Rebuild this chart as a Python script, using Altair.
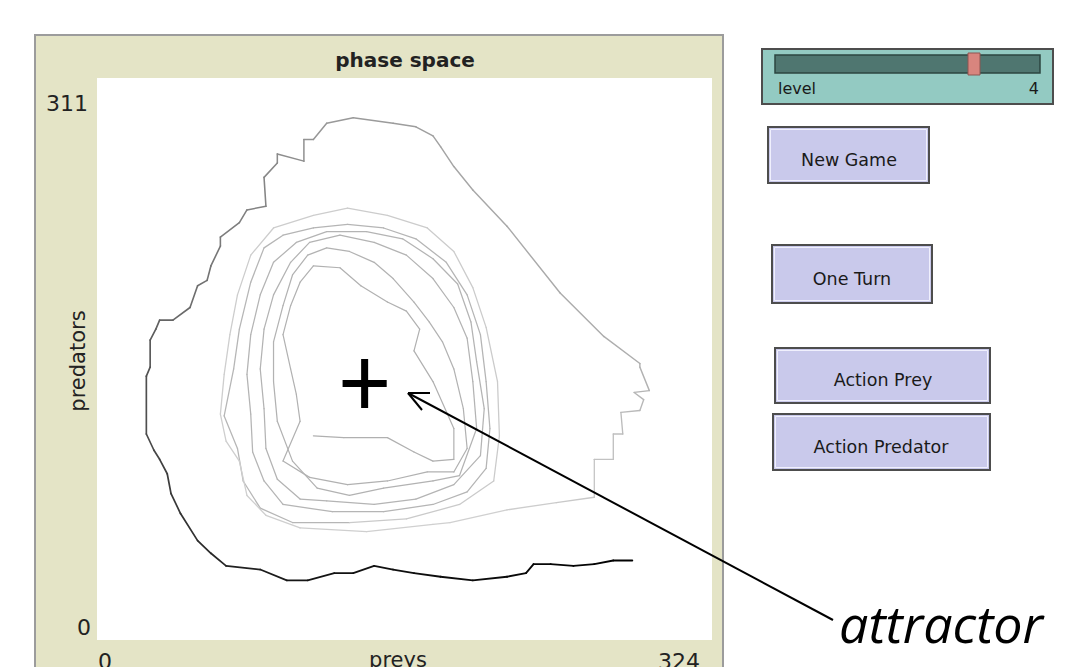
import altair as alt
import pandas as pd

# ---------------- data (prey, predators) ----------------
ring_a_prey = [114, 130, 153, 167, 177, 188, 188, 177, 167, 170, 163, 153, 139, 128, 114, 107, 102, 98, 102, 105, 107]
ring_a_pred = [113, 112, 112, 104, 99, 100, 117, 143, 160, 172, 182, 187, 196, 206, 207, 198, 185, 169, 150, 136, 121]

ring_a2_prey = [98, 112, 132, 153, 174, 188, 195, 193, 188, 182, 175, 167, 156, 146, 133, 121, 111, 103, 98, 93, 93, 95]
ring_a2_pred = [99, 90, 86, 88, 93, 93, 106, 128, 150, 165, 176, 187, 200, 209, 215, 217, 213, 202, 185, 165, 143, 121]

ring_b_prey = [103, 116, 133, 151, 177, 191, 200, 198, 195, 188, 177, 163, 146, 128, 112, 102, 93, 88, 86, 88, 89, 95, 107]
ring_b_pred = [99, 84, 80, 84, 88, 91, 117, 143, 167, 184, 200, 213, 220, 224, 220, 209, 191, 172, 150, 128, 106, 89, 78]

ring_b2_prey = [121, 146, 168, 188, 202, 204, 200, 197, 190, 177, 161, 142, 121, 105, 93, 86, 81, 79, 81, 82, 88, 98]
ring_b2_pred = [77, 75, 78, 86, 102, 128, 154, 176, 197, 211, 222, 226, 226, 220, 209, 191, 169, 147, 125, 104, 88, 75]

ring_c_prey = [124, 151, 177, 195, 205, 207, 205, 202, 195, 184, 168, 151, 132, 114, 98, 88, 81, 75, 72, 67, 74, 77, 86, 103]
ring_c_pred = [71, 71, 75, 82, 95, 117, 143, 169, 191, 209, 222, 228, 230, 228, 224, 217, 198, 172, 150, 124, 106, 88, 73, 65]

ring_d_prey = [133, 163, 191, 209, 212, 211, 205, 198, 188, 174, 153, 132, 114, 93, 81, 74, 70, 67, 65, 68, 75, 79, 89, 107]
ring_d_pred = [65, 67, 75, 88, 113, 143, 173, 195, 215, 228, 235, 239, 235, 228, 213, 191, 169, 147, 125, 110, 99, 80, 69, 62]

tail_prey = [142, 177]
tail_pred = [60, 64]

outer_prey = [186, 216, 242, 262, 262, 272, 272, 277, 276, 286, 288, 283, 291, 286, 286, 267, 244, 216,
              198, 188, 181, 177, 168, 156, 135, 121, 114, 109, 109, 95, 95, 88, 89, 79, 75, 65, 65, 60,
              58, 53, 49, 40, 33, 31, 28, 28, 26, 26, 30, 33, 37, 39, 44, 53, 60, 68, 86, 100, 111, 125,
              135, 146, 156, 167, 181, 198, 216, 226, 230, 239, 251, 262, 272, 282]
outer_pred = [65, 72, 76, 79, 100, 100, 114, 114, 126, 127, 133, 137, 138, 151, 153, 168, 192, 229,
              249, 262, 273, 279, 284, 286, 289, 286, 277, 277, 265, 269, 264, 256, 240, 238, 231, 223, 218, 207,
              199, 196, 184, 177, 177, 172, 166, 151, 146, 114, 105, 100, 92, 81, 70, 55, 48, 41, 39, 33, 33, 37,
              37, 41, 39, 37, 35, 33, 35, 37, 42, 42, 41, 42, 44, 44]

attractor_prey = [141]
attractor_pred = [142]

x_ticks = [0, 324]
y_ticks = [0, 311]
x_title = "preys"
y_title = "predators"
plot_title = "phase space"
slider_label = "level"
slider_value = "4"
buttons = ["New Game", "One Turn", "Action Prey", "Action Predator"]
annotation = "attractor"

# ---------------- tables ----------------
inner_prey = ring_a_prey + ring_a2_prey + ring_b_prey + ring_b2_prey + ring_c_prey
inner_pred = ring_a_pred + ring_a2_pred + ring_b_pred + ring_b2_pred + ring_c_pred
prey = inner_prey + ring_d_prey + tail_prey + outer_prey
pred = inner_pred + ring_d_pred + tail_pred + outer_pred
traj = pd.DataFrame({"t": list(range(len(prey))), "prey": prey, "pred": pred})
traj["nprey"] = traj["prey"].shift(-1)
traj["npred"] = traj["pred"].shift(-1)
traj = traj.dropna()

n_in = len(inner_prey)
o0 = n_in + len(ring_d_prey) + len(tail_prey)   # start of outer loop
t_end = len(prey) - 1

one = pd.DataFrame({"k": [0]})
att = pd.DataFrame({"prey": attractor_prey, "pred": attractor_pred})

xs = alt.Scale(domain=[0, 324], range=[89, 704], nice=False, zero=False)
ys = alt.Scale(domain=[0, 311], range=[632, 70], nice=False, zero=False)
FONT = "DejaVu Sans"

layers = []

# NetLogo plot frame
layers.append(alt.Chart(one).mark_rect(fill="#e4e4c6", stroke="#9c9c9c", strokeWidth=2).encode(
    x=alt.value(27), x2=alt.value(715), y=alt.value(27), y2=alt.value(720)))
layers.append(alt.Chart(one).mark_rect(fill="white").encode(
    x=alt.value(89), x2=alt.value(704), y=alt.value(70), y2=alt.value(632)))

# trajectory segments, shaded by time
stops = [0, n_in - 1, n_in, o0, o0 + 4, o0 + 15, o0 + 25, o0 + 39, o0 + 51, o0 + 57, t_end]
shades = ["#b0b0b0", "#b6b6b6", "#cacaca", "#d0d0d0", "#c2c2c2", "#acacac", "#979797", "#6e6e6e",
          "#383838", "#151515", "#000000"]
layers.append(alt.Chart(traj).mark_rule(strokeCap="round").encode(
    x=alt.X("prey:Q", scale=xs, axis=None),
    y=alt.Y("pred:Q", scale=ys, axis=None),
    x2="nprey:Q", y2="npred:Q",
    color=alt.Color("t:Q", scale=alt.Scale(domain=stops, range=shades, interpolate="rgb"), legend=None),
    strokeWidth=alt.StrokeWidth("t:Q", scale=alt.Scale(domain=[0, o0, t_end], range=[1.2, 1.3, 1.9]), legend=None),
))

# attractor cross
layers.append(alt.Chart(att).mark_point(shape="M-0.9,0H0.9M0,-1V1", size=2401, strokeWidth=7,
                                        color="black", filled=False, opacity=1).encode(
    x=alt.X("prey:Q", scale=xs, axis=None), y=alt.Y("pred:Q", scale=ys, axis=None)))

# tick labels
yt = pd.DataFrame({"v": y_ticks})
layers.append(alt.Chart(yt).transform_filter("datum.v > 0").mark_text(
    font=FONT, fontSize=22, align="right", baseline="alphabetic", dy=33, color="#222").encode(
    x=alt.value(80), y=alt.Y("v:Q", scale=ys, axis=None), text="v:N"))
layers.append(alt.Chart(yt).transform_filter("datum.v == 0").mark_text(
    font=FONT, fontSize=22, align="right", baseline="alphabetic", dy=-5, color="#222").encode(
    x=alt.value(83), y=alt.Y("v:Q", scale=ys, axis=None), text="v:N"))
xt = pd.DataFrame({"v": x_ticks})
layers.append(alt.Chart(xt).transform_filter("datum.v == 0").mark_text(
    font=FONT, fontSize=22, align="left", baseline="alphabetic", dx=1, color="#222").encode(
    x=alt.X("v:Q", scale=xs, axis=None), y=alt.value(661), text="v:N"))
layers.append(alt.Chart(xt).transform_filter("datum.v > 0").mark_text(
    font=FONT, fontSize=22, align="right", baseline="alphabetic", dx=-12, color="#222").encode(
    x=alt.X("v:Q", scale=xs, axis=None), y=alt.value(661), text="v:N"))

# titles
layers.append(alt.Chart(one).mark_text(text=plot_title, font=FONT, fontSize=20, fontWeight="bold",
                                       align="center", baseline="alphabetic", color="#222").encode(
    x=alt.value(397), y=alt.value(59)))
layers.append(alt.Chart(one).mark_text(text=y_title, font=FONT, fontSize=21, angle=270,
                                       align="center", baseline="middle", color="#222").encode(
    x=alt.value(71), y=alt.value(353)))
layers.append(alt.Chart(one).mark_text(text=x_title, font=FONT, fontSize=21,
                                       align="center", baseline="alphabetic", color="#222").encode(
    x=alt.value(390), y=alt.value(659)))

# slider
layers.append(alt.Chart(one).mark_rect(fill="#93cac2", stroke="#4d4d4d", strokeWidth=2).encode(
    x=alt.value(754), x2=alt.value(1045), y=alt.value(41), y2=alt.value(96)))
layers.append(alt.Chart(one).mark_rect(fill="#4f7670", stroke="#2c4540", strokeWidth=1.5).encode(
    x=alt.value(767), x2=alt.value(1032), y=alt.value(47), y2=alt.value(65)))
layers.append(alt.Chart(one).mark_rect(fill="#d8857e", stroke="#8e5550", strokeWidth=1).encode(
    x=alt.value(960), x2=alt.value(972), y=alt.value(45), y2=alt.value(67)))
layers.append(alt.Chart(one).mark_text(text=slider_label, font=FONT, fontSize=16, align="left",
                                       baseline="alphabetic", color="#1a1a1a").encode(
    x=alt.value(770), y=alt.value(86)))
layers.append(alt.Chart(one).mark_text(text=slider_value, font=FONT, fontSize=16, align="right",
                                       baseline="alphabetic", color="#1a1a1a").encode(
    x=alt.value(1031), y=alt.value(86)))

# buttons: (x1, y1, x2, y2, text x, text baseline)
geo = [(760, 119, 921, 175, 841, 158),
       (764, 237, 924, 295, 844, 277),
       (767, 340, 982, 395, 875, 378),
       (765, 406, 982, 462, 873, 445)]
for label, (x1, y1, x2, y2, tx, ty) in zip(buttons, geo):
    layers.append(alt.Chart(one).mark_rect(fill="#c9c9eb", stroke="#4d4d4d", strokeWidth=2).encode(
        x=alt.value(x1), x2=alt.value(x2), y=alt.value(y1), y2=alt.value(y2)))
    layers.append(alt.Chart(one).mark_rect(fill=None, stroke="#f4f4ff", strokeWidth=1, opacity=0.9).encode(
        x=alt.value(x1 + 2.5), x2=alt.value(x2 - 2.5), y=alt.value(y1 + 2.5), y2=alt.value(y2 - 2.5)))
    layers.append(alt.Chart(one).mark_text(text=label, font=FONT, fontSize=17.5, align="center",
                                           baseline="alphabetic", color="#1a1a1a").encode(
        x=alt.value(tx), y=alt.value(ty)))

# annotation arrow
layers.append(alt.Chart(one).mark_rule(color="black", strokeWidth=2).encode(
    x=alt.value(400), y=alt.value(385), x2=alt.value(825), y2=alt.value(612)))
layers.append(alt.Chart(one).mark_rule(color="black", strokeWidth=2).encode(
    x=alt.value(400), y=alt.value(385), x2=alt.value(422), y2=alt.value(385)))
layers.append(alt.Chart(one).mark_rule(color="black", strokeWidth=2).encode(
    x=alt.value(400), y=alt.value(385), x2=alt.value(414), y2=alt.value(402)))
layers.append(alt.Chart(one).mark_text(text=annotation, font="Open Sans", fontSize=52, fontStyle="italic",
                                       align="left", baseline="alphabetic", color="black").encode(
    x=alt.value(831), y=alt.value(635)))

chart = alt.layer(*layers).properties(
    width=1054, height=659, padding=0,
    autosize=alt.AutoSizeParams(type="none"), background="white",
).configure_view(stroke=None)

chart.save("out.html", embed_options={"renderer": "svg", "actions": False})
